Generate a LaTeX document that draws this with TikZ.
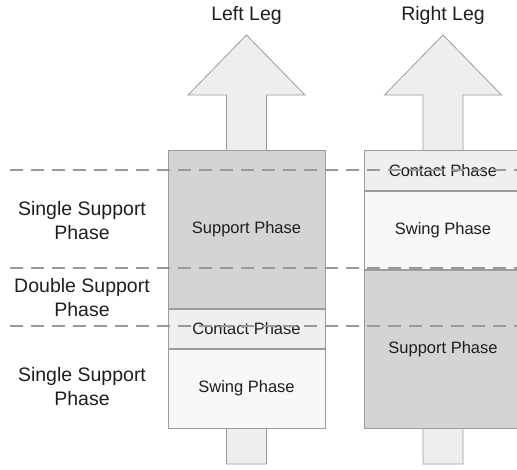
\documentclass[tikz,border=0pt]{standalone}
\usepackage{fontspec}
\setmainfont{Liberation Sans}
\usetikzlibrary{positioning}
\definecolor{supportgray}{HTML}{D4D4D4}
\definecolor{contactgray}{HTML}{EFEFEF}
\definecolor{swingwhite}{HTML}{F8F8F8}
\definecolor{arrowfill}{HTML}{EEEEEE}
\definecolor{edgegray}{HTML}{9C9C9C}
\definecolor{dashgray}{HTML}{999999}
\definecolor{textdark}{HTML}{1E1E1E}
\begin{document}
\begin{tikzpicture}[x=1pt,y=-1pt,
  legarrow/.style={fill=arrowfill,draw=edgegray,line width=0.8pt},
  phase/.style={draw=edgegray,line width=0.8pt,minimum width=157pt,inner sep=0pt,
    text=textdark,font=\fontsize{16.5}{19}\selectfont},
  support/.style={phase,fill=supportgray},
  contact/.style={phase,fill=contactgray},
  swing/.style={phase,fill=swingwhite},
  sidelabel/.style={align=center,text=textdark,font=\fontsize{19.5}{24}\selectfont},
  title/.style={text=textdark,font=\fontsize{19.5}{24}\selectfont},
  separator/.style={draw=dashgray,line width=2.2pt,dash pattern=on 13pt off 8pt}]
\useasboundingbox (0,0) rectangle (517,469);
\clip (0,0) rectangle (517,469);

% leg arrows (drawn first, boxes sit on top of the shafts)
\foreach \cx in {246.5,443}{
  \draw[legarrow] (\cx-20,464) -- (\cx-20,95) -- (\cx-58.5,95) -- (\cx,35)
    -- (\cx+58.5,95) -- (\cx+20,95) -- (\cx+20,464) -- cycle;
}

% left leg phases
\node[support,anchor=north,minimum height=158pt] (Lsupport) at (246.5,150) {Support Phase};
\node[contact,minimum height=39pt,below=0pt of Lsupport] (Lcontact) {Contact Phase};
\node[swing,minimum height=79pt,below=0pt of Lcontact] (Lswing) {Swing Phase};

% right leg phases
\node[contact,anchor=north,minimum height=40pt] (Rcontact) at (443,150) {Contact Phase};
\node[swing,minimum height=78pt,below=0pt of Rcontact] (Rswing) {Swing Phase};
\node[support,minimum height=158pt,below=0pt of Rswing] (Rsupport) {Support Phase};

% column titles
\node[title] (Ltitle) at (246.5,15) {Left Leg};
\node[title] (Rtitle) at (443,15) {Right Leg};

% gait phase labels
\node[sidelabel] (single1) at (82,221) {Single Support\\Phase};
\node[sidelabel] (double) at (82,298) {Double Support\\Phase};
\node[sidelabel] (single2) at (82,387) {Single Support\\Phase};

% phase boundaries
\draw[separator] (10,170) -- (517,170);
\draw[separator] (10,268) -- (517,268);
\draw[separator] (10,326) -- (517,326);
\end{tikzpicture}
\end{document}
